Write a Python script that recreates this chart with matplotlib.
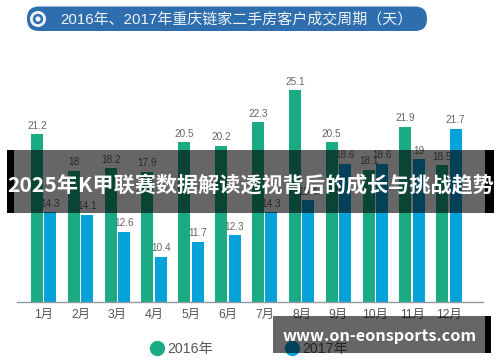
import matplotlib
matplotlib.use("Agg")
import matplotlib.pyplot as plt
from matplotlib.patches import Rectangle, FancyBboxPatch, Circle
from matplotlib.lines import Line2D

months = ["1月", "2月", "3月", "4月", "5月", "6月", "7月", "8月", "9月", "10月", "11月", "12月"]
y2016 = [21.2, 18, 18.2, 17.9, 20.5, 20.2, 22.3, 25.1, 20.5, 18.1, 21.9, 18.5]
y2017 = [14.3, 14.1, 12.6, 10.4, 11.7, 12.3, 14.3, 15.4, 18.6, 18.6, 19, 21.7]
labels = ["2016年", "2017年"]
header = "2016年、2017年重庆链家二手房客户成交周期（天）"
banner = "2025年K甲联赛数据解读透视背后的成长与挑战趋势"
site = "www.on-eonsports.com"

GREEN, BLUE = "#1aab85", "#05a3d9"
GREY = "#666666"
LATIN = ["Liberation Sans", "Noto Sans CJK SC"]
plt.rcParams["font.family"] = LATIN

W, H = 500, 362
fig = plt.figure(figsize=(W / 100, H / 100), dpi=100, facecolor="white")

# chart axes, placed in pixels
L, R, B, T = 17, 483, 301.5, 60
ax = fig.add_axes([L / W, 1 - B / H, (R - L) / W, (B - T) / H])
step = 36.85
c0 = 43.6
ax.set_xlim((L - c0) / step, (R - c0) / step)
k = 11.3
v0 = 18.5 - (B - 165) / k
ax.set_ylim(v0, v0 + (B - T) / k)
w = 12 / step
off = 6.7 / step
for i, (a, b) in enumerate(zip(y2016, y2017)):
    ax.bar(i - off, a - v0, w, bottom=v0, color=GREEN)
    ax.bar(i + off, b - v0, w, bottom=v0, color=BLUE)
    ax.text(i - off, a + 0.3, f"{a:g}", ha="center", va="bottom", fontsize=7.2, color=GREY)
    ax.text(i + off, b + 0.3, f"{b:g}", ha="center", va="bottom", fontsize=7.2, color=GREY)
ax.set_xticks(range(12), months, fontsize=8.8, color="#555555")
ax.tick_params(axis="x", length=0, pad=5)
ax.set_yticks([])
for s in ("top", "left", "right"):
    ax.spines[s].set_visible(False)
ax.spines["bottom"].set_color("#8f9aa0")
ax.spines["bottom"].set_linewidth(1)
ax.patch.set_alpha(0)

handles = [Line2D([], [], ls="", marker="o", ms=10, color=GREEN),
           Line2D([], [], ls="", marker="o", ms=10, color=BLUE)]
ax.legend(handles, labels, ncols=2, frameon=False, fontsize=10.2, labelcolor="#555555",
          loc="center", bbox_to_anchor=(249 / W, 1 - 349 / H), bbox_transform=fig.transFigure,
          handlelength=1, handletextpad=0.2, columnspacing=5.1, borderpad=0, borderaxespad=0)

# decoration layer in pixel coordinates
ov = fig.add_axes([0, 0, 1, 1], zorder=5)
ov.set_xlim(0, W)
ov.set_ylim(H, 0)
ov.axis("off")

PILL = "#2f6eae"
ov.add_patch(FancyBboxPatch((27 + 12, 6.5 + 12), 400 - 24, 0.5, boxstyle="round,pad=12,rounding_size=12",
                            fc=PILL, ec="none", mutation_aspect=1))
ov.add_patch(Circle((38, 19), 6.6, fc="none", ec="#f2f6fa", lw=2))
ov.add_patch(Circle((38, 19), 2.6, fc="#f2f6fa", ec="none"))
ov.text(60, 19, header, fontsize=10.8, color="#eef3f8", va="center", ha="left")

# banner overlay
ov.add_patch(Rectangle((7, 150), 487, 62.7, fc="black", alpha=0.6, ec="none"))
ov.add_patch(Rectangle((7, 150), 7, 62.7, fc="black", ec="none"))
ov.add_patch(Rectangle((485, 150), 9, 62.7, fc="black", ec="none"))
ov.text(7, 186, banner, fontsize=15.2, fontweight="bold", color="white", va="center", ha="left",
        family=["Noto Sans CJK SC", "DejaVu Sans"])

# site overlay
ov.add_patch(Rectangle((273, 315.7), 218, 37.3, fc="black", alpha=0.6, ec="none"))
ov.add_patch(Rectangle((485, 315.7), 6, 37.3, fc="black", ec="none"))
ov.text(283, 336, site, fontsize=11.7, fontweight="bold", color="white", va="center", ha="left",
        family=["Noto Sans CJK SC", "DejaVu Sans"])

fig.savefig("out.png", dpi=100, facecolor="white")
